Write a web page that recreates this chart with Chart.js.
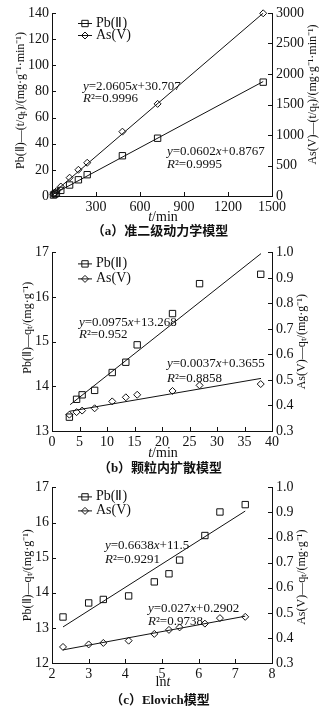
<!DOCTYPE html>
<html>
<head>
<meta charset="utf-8">
<script src="https://cdn.jsdelivr.net/npm/chart.js@4.4.0/dist/chart.umd.min.js"></script>
<style>
  body { margin: 0; background: #fff; }
  #wrap { position: relative; width: 323px; height: 707px; overflow: hidden; }
  canvas { position: absolute; left: 0; }
  .lbl { position: absolute; transform: translate(-50%, -50%); white-space: nowrap; color: #111; }
  .xt { font: 14px "Liberation Serif", serif; }
  .cap { font: bold 13px "Liberation Serif", "Noto Sans CJK SC", serif; }
</style>
</head>
<body>
<div id="wrap">
  <canvas id="chartA" width="323" height="212" style="top:0"></canvas>
  <canvas id="chartB" width="323" height="206" style="top:240px"></canvas>
  <canvas id="chartC" width="323" height="203" style="top:475px"></canvas>

  <div class="lbl xt" style="left:163px;top:217px"><i>t</i>/min</div>
  <div class="lbl cap" style="left:160px;top:229px">（a）准二级动力学模型</div>
  <div class="lbl xt" style="left:163px;top:453px"><i>t</i>/min</div>
  <div class="lbl cap" style="left:160px;top:466px">（b）颗粒内扩散模型</div>
  <div class="lbl xt" style="left:163px;top:682px">ln<i>t</i></div>
  <div class="lbl cap" style="left:160px;top:698px">（c）Elovich模型</div>
</div>
<script>
// x values: t, t^0.5, ln t
const timeMin = [10, 20, 30, 60, 120, 180, 240, 480, 720, 1440];
const sqrtTime = [3.16, 4.47, 5.48, 7.75, 10.95, 13.42, 15.49, 21.91, 26.83, 37.95];
const lnTime = [2.30, 3.00, 3.40, 4.09, 4.79, 5.19, 5.48, 6.17, 6.58, 7.27];

// (a) t/qt
const pbTq = [0.75, 1.5, 2.2, 4.3, 8.4, 12.4, 16.3, 30.8, 44.2, 87.1];
const asTq = [27, 53, 79, 155, 300, 430, 545, 1055, 1510, 2995];

// (b), (c) qt
const pbQt = [13.31, 13.71, 13.81, 13.91, 14.31, 14.54, 14.93, 15.63, 16.30, 16.51];
const asQt = [0.364, 0.374, 0.380, 0.389, 0.416, 0.432, 0.442, 0.457, 0.479, 0.484];

// fitted lines [slope, intercept]
const pbFitA = [0.0602, 0.8767];
const asFitA = [2.0605, 30.707];
const pbFitB = [0.0975, 13.268];
const asFitB = [0.0037, 0.3655];
const pbFitC = [0.6638, 11.5];
const asFitC = [0.027, 0.2902];

const SERIF = '"Liberation Serif", serif';
const INK = '#111';

function fitLine(coef, x0, x1) {
    return [{x: x0, y: coef[0] * x0 + coef[1]}, {x: x1, y: coef[0] * x1 + coef[1]}];
}

function pts(xs, ys) {
    return xs.map((x, i) => ({x: x, y: ys[i]}));
}

function richText(ctx, x, y, parts, size) {
    let cx = x;
    for (const [t, it] of parts) {
        ctx.font = (it ? 'italic ' : '') + size + 'px ' + SERIF;
        ctx.fillText(t, cx, y);
        cx += ctx.measureText(t).width;
    }
}

// inward ticks, axis titles, legend and equations
const decor = {
    id: 'decor',
    afterDraw(chart) {
        const o = chart.options.plugins.decor;
        const ctx = chart.ctx;
        const a = chart.chartArea;
        ctx.save();
        ctx.strokeStyle = INK;
        ctx.fillStyle = INK;
        ctx.lineWidth = 1;
        ctx.beginPath();
        chart.scales.x.ticks.forEach(t => {
            const px = Math.round(chart.scales.x.getPixelForValue(t.value)) + 0.5;
            ctx.moveTo(px, a.bottom); ctx.lineTo(px, a.bottom - 4);
        });
        chart.scales.y.ticks.forEach(t => {
            const py = Math.round(chart.scales.y.getPixelForValue(t.value)) + 0.5;
            ctx.moveTo(a.left, py); ctx.lineTo(a.left + 4, py);
        });
        chart.scales.y1.ticks.forEach(t => {
            const py = Math.round(chart.scales.y1.getPixelForValue(t.value)) + 0.5;
            ctx.moveTo(a.right, py); ctx.lineTo(a.right - 4, py);
        });
        ctx.stroke();

        // axis titles
        ctx.textAlign = 'center';
        ctx.textBaseline = 'middle';
        ctx.font = '12px ' + SERIF;
        const cy = (a.top + a.bottom) / 2;
        ctx.save();
        ctx.translate(o.leftTitleX, cy + o.leftTitleDy);
        ctx.rotate(-Math.PI / 2);
        ctx.fillText(o.leftTitle, 0, 0);
        ctx.restore();
        ctx.save();
        ctx.translate(o.rightTitleX, cy + o.rightTitleDy);
        ctx.rotate(-Math.PI / 2);
        ctx.fillText(o.rightTitle, 0, 0);
        ctx.restore();

        // legend
        ctx.textAlign = 'left';
        const lx = a.left + 26;
        [['Pb(Ⅱ)', 'rect', 4.5, o.legY[0]], ['As(V)', 'rectRot', 3.5, o.legY[1]]].forEach(([txt, st, r, dy]) => {
            const ly = a.top + dy;
            ctx.strokeStyle = INK;
            ctx.beginPath();
            ctx.moveTo(lx, ly + 0.5); ctx.lineTo(lx + 14, ly + 0.5);
            ctx.stroke();
            ctx.fillStyle = 'rgba(0,0,0,0)';
            Chart.helpers.drawPoint(ctx, {pointStyle: st, rotation: 0, radius: r, borderWidth: 1}, lx + 7, ly + 0.5);
            ctx.fillStyle = INK;
            ctx.font = '14px ' + SERIF;
            ctx.fillText(txt, lx + 18, ly);
        });

        // equations
        o.notes.forEach(n => richText(ctx, a.left + n.dx, a.top + n.dy, n.parts, 13));
        ctx.restore();
    }
};

function makeChart(id, cfg) {
    const tickFont = {family: SERIF, size: 14};
    const axisBase = {
        grid: {display: false, drawTicks: false},
        border: {display: true, color: INK, width: 1},
        ticks: {color: INK, font: tickFont, padding: 3}
    };
    return new Chart(document.getElementById(id), {
        type: 'scatter',
        data: {
            datasets: [
                {data: cfg.pb, yAxisID: 'y', pointStyle: 'rect', pointRadius: 4.5, pointBorderColor: INK,
                 pointBackgroundColor: 'rgba(0,0,0,0)', pointBorderWidth: 1, clip: false},
                {data: cfg.as, yAxisID: 'y1', pointStyle: 'rectRot', pointRadius: 3.5, pointBorderColor: INK,
                 pointBackgroundColor: 'rgba(0,0,0,0)', pointBorderWidth: 1, clip: false},
                {data: cfg.pbLine, yAxisID: 'y', showLine: true, pointRadius: 0, borderColor: INK, borderWidth: 1},
                {data: cfg.asLine, yAxisID: 'y1', showLine: true, pointRadius: 0, borderColor: INK, borderWidth: 1}
            ]
        },
        options: {
            responsive: false,
            animation: false,
            devicePixelRatio: 1,
            layout: {padding: {top: cfg.top, left: 0, right: 0, bottom: 0}},
            plugins: {legend: {display: false}, tooltip: {enabled: false}, decor: cfg.decor},
            scales: {
                x: Object.assign({}, axisBase, {
                    type: 'linear', min: cfg.x[0], max: cfg.x[1],
                    ticks: Object.assign({}, axisBase.ticks, {stepSize: cfg.x[2], callback: cfg.xCb || (v => v)}),
                    afterFit: s => { s.height = cfg.xh; }
                }),
                y: Object.assign({}, axisBase, {
                    position: 'left', min: cfg.y[0], max: cfg.y[1],
                    ticks: Object.assign({}, axisBase.ticks, {stepSize: cfg.y[2]}),
                    afterFit: s => { s.width = 52; }
                }),
                y1: Object.assign({}, axisBase, {
                    position: 'right', min: cfg.y1[0], max: cfg.y1[1],
                    ticks: Object.assign({}, axisBase.ticks, {stepSize: cfg.y1[2], padding: 4,
                        callback: cfg.y1Cb || (v => v)}),
                    afterFit: s => { s.width = 51; }
                })
            }
        },
        plugins: [decor]
    });
}

makeChart('chartA', {
    pb: pts(timeMin, pbTq), as: pts(timeMin, asTq),
    pbLine: fitLine(pbFitA, 10, 1440), asLine: fitLine(asFitA, 10, 1440),
    x: [0, 1500, 300], y: [0, 140, 20], y1: [0, 3000, 500],
    xCb: v => (v === 0 ? '' : v),
    top: 13, xh: 16,
    decor: {
        leftTitle: 'Pb(Ⅱ)—(t/qₜ)/(mg·g⁻¹·min⁻¹)', rightTitle: 'As(V)—(t/qₜ)/(mg·g⁻¹·min⁻¹)',
        leftTitleX: 21, leftTitleDy: -4, rightTitleX: 313, rightTitleDy: -10,
        legY: [10, 22],
        notes: [
            {dx: 31, dy: 74, parts: [['y', 1], ['=2.0605', 0], ['x', 1], ['+30.707', 0]]},
            {dx: 31, dy: 86, parts: [['R', 1], ['²=0.9996', 0]]},
            {dx: 115, dy: 139, parts: [['y', 1], ['=0.0602', 0], ['x', 1], ['+0.8767', 0]]},
            {dx: 115, dy: 152, parts: [['R', 1], ['²=0.9995', 0]]}
        ]
    }
});

makeChart('chartB', {
    pb: pts(sqrtTime, pbQt), as: pts(sqrtTime, asQt),
    pbLine: fitLine(pbFitB, 3.3, 38), asLine: fitLine(asFitB, 3.16, 38),
    x: [0, 40, 5], y: [13, 17, 1], y1: [0.3, 1.0, 0.1],
    y1Cb: v => v.toFixed(1),
    top: 12, xh: 15,
    decor: {
        leftTitle: 'Pb(Ⅱ)—qₜ/(mg·g⁻¹)', rightTitle: 'As(V)—qₜ/(mg·g⁻¹)',
        leftTitleX: 28, leftTitleDy: -14, rightTitleX: 302, rightTitleDy: 0,
        legY: [11, 26],
        notes: [
            {dx: 27, dy: 70, parts: [['y', 1], ['=0.0975', 0], ['x', 1], ['+13.268', 0]]},
            {dx: 27, dy: 82, parts: [['R', 1], ['²=0.952', 0]]},
            {dx: 115, dy: 111, parts: [['y', 1], ['=0.0037', 0], ['x', 1], ['+0.3655', 0]]},
            {dx: 115, dy: 126, parts: [['R', 1], ['²=0.8858', 0]]}
        ]
    }
});

makeChart('chartC', {
    pb: pts(lnTime, pbQt), as: pts(lnTime, asQt),
    pbLine: fitLine(pbFitC, 2.3, 7.27), asLine: fitLine(asFitC, 2.3, 7.27),
    x: [2, 8, 1], y: [12, 17, 1], y1: [0.3, 1.0, 0.1],
    y1Cb: v => v.toFixed(1),
    top: 11, xh: 15,
    decor: {
        leftTitle: 'Pb(Ⅱ)—qₜ/(mg·g⁻¹)', rightTitle: 'As(V)—qₜ/(mg·g⁻¹)',
        leftTitleX: 28, leftTitleDy: 0, rightTitleX: 302, rightTitleDy: 2,
        legY: [9, 23],
        notes: [
            {dx: 53, dy: 58, parts: [['y', 1], ['=0.6638', 0], ['x', 1], ['+11.5', 0]]},
            {dx: 53, dy: 72, parts: [['R', 1], ['²=0.9291', 0]]},
            {dx: 96, dy: 121, parts: [['y', 1], ['=0.027', 0], ['x', 1], ['+0.2902', 0]]},
            {dx: 96, dy: 134, parts: [['R', 1], ['²=0.9738', 0]]}
        ]
    }
});
</script>
</body>
</html>
